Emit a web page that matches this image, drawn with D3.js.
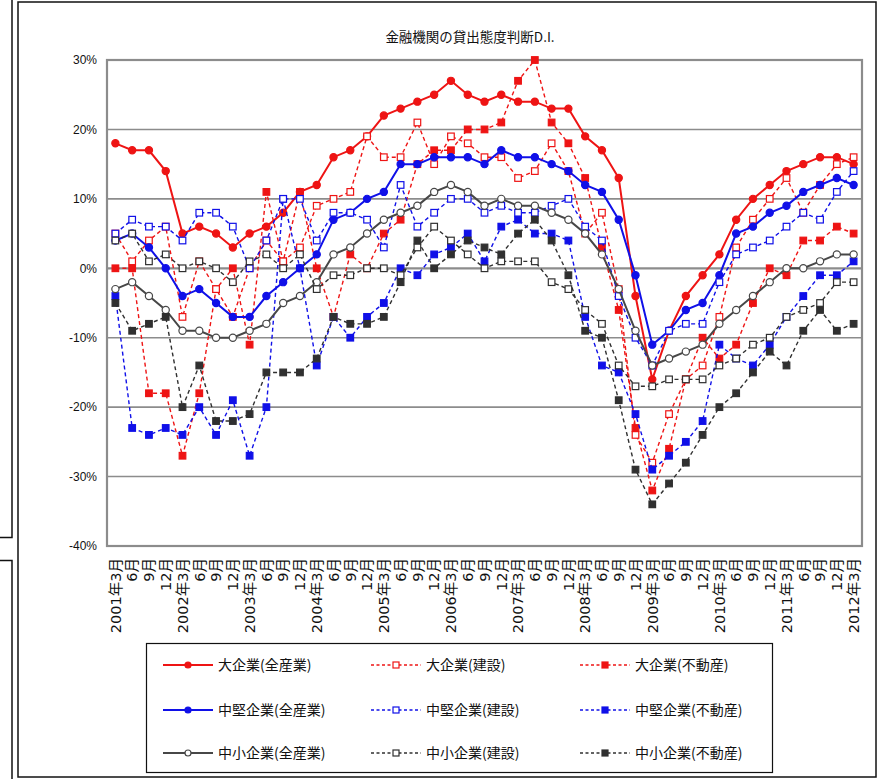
<!DOCTYPE html>
<html>
<head>
<meta charset="utf-8">
<script src="https://cdn.jsdelivr.net/npm/d3@7/dist/d3.min.js"></script>
<style>
  html, body { margin: 0; padding: 0; background: #fff; }
  svg { display: block; }
  text { font-family: "Noto Sans CJK JP", "Liberation Sans", sans-serif; fill: #111; }
</style>
</head>
<body>
<svg id="chart" width="879" height="779"></svg>
<script>
// Quarter labels (March 2001 – March 2012)
const periods = [
  "2001年3月","6月","9月","12月",
  "2002年3月","6月","9月","12月",
  "2003年3月","6月","9月","12月",
  "2004年3月","6月","9月","12月",
  "2005年3月","6月","9月","12月",
  "2006年3月","6月","9月","12月",
  "2007年3月","6月","9月","12月",
  "2008年3月","6月","9月","12月",
  "2009年3月","6月","9月","12月",
  "2010年3月","6月","9月","12月",
  "2011年3月","6月","9月","12月",
  "2012年3月"
];

const yTicks = [-40, -30, -20, -10, 0, 10, 20, 30];

// Lending attitude D.I. (%), by firm size and industry
const largeAll = [18,17,17,14,5,6,5,3,5,6,8,11,12,16,17,19,22,23,24,25,27,25,24,25,24,24,23,23,19,17,13,-4,-16,-9,-4,-1,2,7,10,12,14,15,16,16,15];
const largeConstruction = [5,1,4,6,-7,1,-3,-7,0,4,1,3,9,10,11,19,16,16,21,15,19,18,16,16,13,14,18,14,5,8,-3,-24,-28,-21,-16,-14,-7,3,7,10,13,8,12,15,16];
const largeRealEstate = [0,0,-18,-18,-27,-18,-3,0,-11,11,1,11,0,-7,2,0,5,7,15,17,17,20,20,21,27,30,21,18,13,3,-6,-23,-32,-26,-16,-10,-13,-11,-5,0,-1,4,4,6,5];

const midAll = [4,5,3,0,-4,-3,-5,-7,-7,-4,-2,0,2,7,8,10,11,15,15,16,16,16,15,17,16,16,15,14,12,11,7,-1,-11,-9,-6,-5,-1,5,6,8,9,11,12,13,12];
const midConstruction = [5,7,6,6,4,8,8,6,0,4,10,10,4,8,8,7,3,12,6,8,10,10,8,9,8,8,9,10,6,4,-4,-10,-14,-9,-8,-8,-2,2,3,4,6,8,7,11,14];
const midRealEstate = [-4,-23,-24,-23,-24,-20,-24,-19,-27,-20,10,0,-14,-7,-10,-7,-5,0,-1,2,3,5,1,6,7,5,5,4,-7,-14,-15,-21,-29,-27,-25,-22,-11,-13,-14,-11,-7,-4,-1,-1,1];

const smallAll = [-3,-2,-4,-6,-9,-9,-10,-10,-9,-8,-5,-4,-2,2,3,5,7,8,9,11,12,11,9,10,9,9,8,7,5,2,-3,-9,-14,-13,-12,-11,-8,-6,-4,-2,0,0,1,2,2];
const smallConstruction = [4,5,1,2,0,1,0,-2,1,2,0,2,-3,-1,-1,0,0,-1,3,6,4,2,0,1,1,1,-2,-3,-6,-8,-14,-17,-17,-16,-16,-16,-14,-13,-11,-10,-7,-6,-5,-2,-2];
const smallRealEstate = [-5,-9,-8,-7,-20,-14,-22,-22,-21,-15,-15,-15,-13,-7,-8,-8,-7,-2,4,0,2,4,3,2,5,7,4,-1,-9,-10,-19,-29,-34,-31,-28,-24,-20,-18,-15,-12,-14,-9,-6,-9,-8];

const seriesNames = [
  "大企業(全産業)","大企業(建設)","大企業(不動産)",
  "中堅企業(全産業)","中堅企業(建設)","中堅企業(不動産)",
  "中小企業(全産業)","中小企業(建設)","中小企業(不動産)"
];
const seriesValues = [
  largeAll, largeConstruction, largeRealEstate,
  midAll, midConstruction, midRealEstate,
  smallAll, smallConstruction, smallRealEstate
];

const RED = "#ee1414", BLUE = "#1010e8", GREY = "#474747", DARK = "#303030";
const styles = [
  {color: RED,  dash: null,  marker: "circle", fill: RED},
  {color: RED,  dash: "4,3", marker: "square", fill: "#fff"},
  {color: RED,  dash: "4,3", marker: "square", fill: RED},
  {color: BLUE, dash: null,  marker: "circle", fill: BLUE},
  {color: BLUE, dash: "4,3", marker: "square", fill: "#fff"},
  {color: BLUE, dash: "4,3", marker: "square", fill: BLUE},
  {color: GREY, dash: null,  marker: "circle", fill: "#fff"},
  {color: DARK, dash: "4,3", marker: "square", fill: "#fff"},
  {color: DARK, dash: "4,3", marker: "square", fill: DARK}
];
// Paint order: within each size group the hollow construction series sits on top
const paintOrder = [0, 2, 1, 3, 5, 4, 6, 8, 7];

const svg = d3.select("#chart");

// Frames around the panel
const frame = svg.append("g").attr("fill", "none").attr("stroke", "#111").attr("stroke-width", 1.5);
frame.append("rect").attr("x", 18).attr("y", 2).attr("width", 858).attr("height", 775);
frame.append("path").attr("d", "M0,537.5H12V0");
frame.append("path").attr("d", "M0,560.5H12V779");

const plot = {left: 107, right: 862, top: 60, bottom: 546};

// Categories are indexed, since month labels repeat
const idx = d3.range(periods.length);
const x = d3.scaleBand().domain(idx).range([plot.left, plot.right]);
const cx = i => x(i) + x.bandwidth() / 2;
const y = d3.scaleLinear().domain([-40, 30]).range([plot.bottom, plot.top]);

// Title
svg.append("text")
  .attr("x", 470).attr("y", 42)
  .attr("text-anchor", "middle")
  .attr("font-size", 13.5)
  .text("金融機関の貸出態度判断D.I.");

// Horizontal gridlines
svg.append("g")
  .selectAll("line")
  .data(yTicks)
  .join("line")
  .attr("x1", plot.left).attr("x2", plot.right)
  .attr("y1", d => y(d)).attr("y2", d => y(d))
  .attr("stroke", "#8c8c8c")
  .attr("stroke-width", d => d === 0 ? 2.2 : 1.6);

// Plot border
svg.append("rect")
  .attr("x", plot.left).attr("y", plot.top)
  .attr("width", plot.right - plot.left).attr("height", plot.bottom - plot.top)
  .attr("fill", "none").attr("stroke", "#8c8c8c").attr("stroke-width", 2.2);

// Y axis labels
const yAxis = svg.append("g")
  .attr("transform", `translate(${plot.left - 10},0)`)
  .call(d3.axisLeft(y).tickValues(yTicks).tickFormat(d => d + "%").tickSize(0));
yAxis.select(".domain").remove();
yAxis.selectAll("text").attr("font-size", 12).attr("x", 0)
  .style("font-family", "'Liberation Sans', Arial, sans-serif");

// X axis labels (vertical)
const xAxis = svg.append("g")
  .attr("transform", `translate(0,${plot.bottom})`)
  .call(d3.axisBottom(x).tickSize(0).tickFormat(i => periods[i]));
xAxis.select(".domain").remove();
xAxis.selectAll("text")
  .attr("font-size", 14.5)
  .style("font-family", "'DejaVu Sans', 'Noto Sans CJK JP', sans-serif")
  .attr("transform", "rotate(-90)")
  .attr("text-anchor", "end")
  .attr("x", -12).attr("y", 0).attr("dy", "0.36em");

// Series lines and markers
const line = d3.line().x((d, i) => cx(i)).y(d => y(d));

function drawMarker(g, st, px, py, small) {
  if (st.marker === "circle") {
    g.append("circle").attr("cx", px).attr("cy", py).attr("r", small ? 3 : 3.6)
      .attr("fill", st.fill).attr("stroke", st.color).attr("stroke-width", 1.2);
  } else {
    const s = small ? 6 : 6.6;
    g.append("rect").attr("x", px - s / 2).attr("y", py - s / 2).attr("width", s).attr("height", s)
      .attr("fill", st.fill).attr("stroke", st.color).attr("stroke-width", 1.2);
  }
}

paintOrder.forEach(k => {
  const vals = seriesValues[k];
  const st = styles[k];
  const g = svg.append("g");
  g.append("path")
    .attr("d", line(vals))
    .attr("fill", "none")
    .attr("stroke", st.color)
    .attr("stroke-width", st.dash ? 1.4 : 2)
    .attr("stroke-dasharray", st.dash);
  vals.forEach((v, i) => drawMarker(g, st, cx(i), y(v), false));
});

// Legend
const legend = svg.append("g");
legend.append("rect")
  .attr("x", 146.5).attr("y", 643.5).attr("width", 626).attr("height", 129)
  .attr("fill", "#fff").attr("stroke", "#111").attr("stroke-width", 1.2);
const colX = [163, 371, 580];
const rowY = [665, 710, 753];
seriesNames.forEach((name, k) => {
  const st = styles[k];
  const lx = colX[k % 3], ly = rowY[Math.floor(k / 3)];
  const g = legend.append("g");
  g.append("line").attr("x1", lx).attr("x2", lx + 50).attr("y1", ly).attr("y2", ly)
    .attr("stroke", st.color).attr("stroke-width", st.dash ? 1.6 : 2)
    .attr("stroke-dasharray", st.dash ? "3,2.5" : null);
  drawMarker(g, st, lx + 25, ly, true);
  g.append("text").attr("x", lx + 55).attr("y", ly).attr("dy", "0.36em")
    .attr("font-size", 14).text(name);
});
</script>
</body>
</html>
